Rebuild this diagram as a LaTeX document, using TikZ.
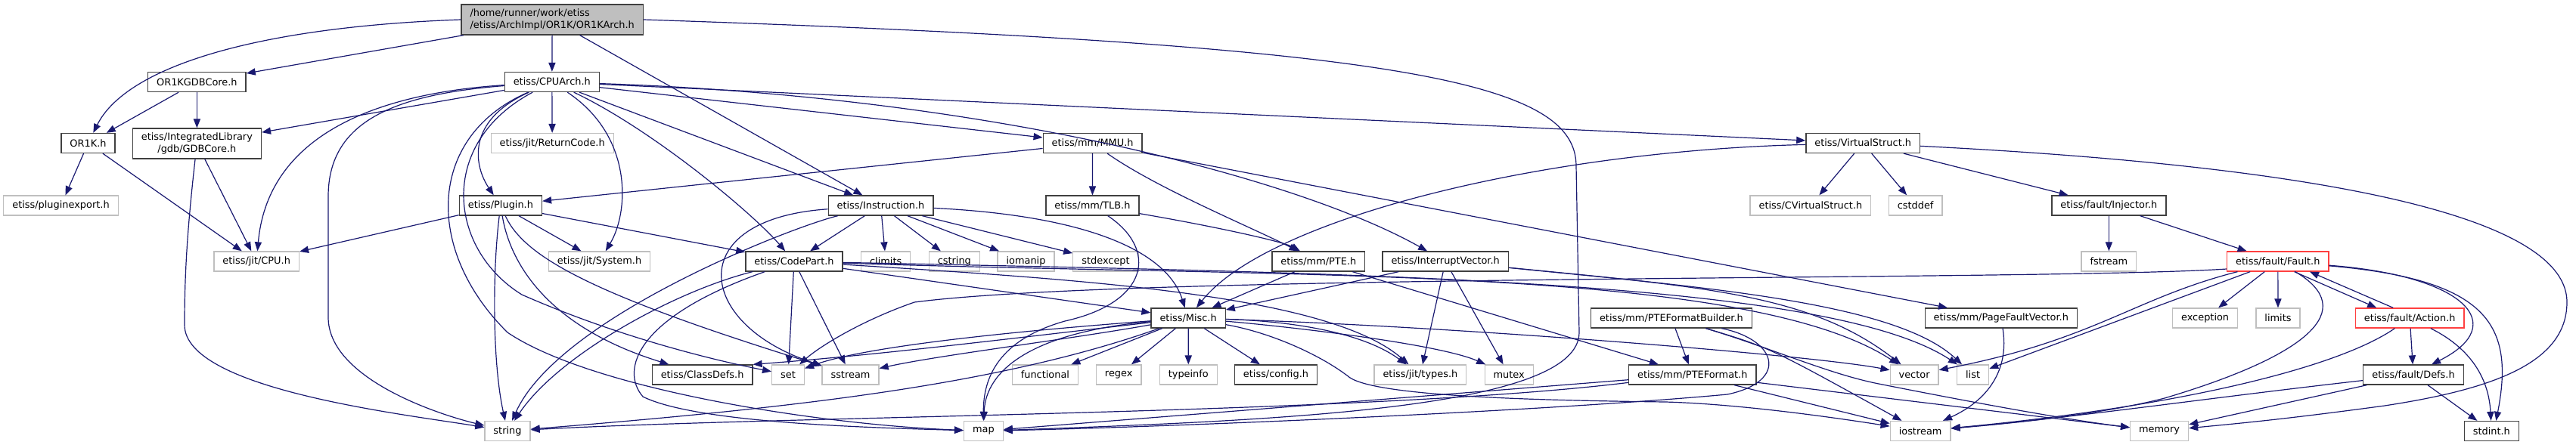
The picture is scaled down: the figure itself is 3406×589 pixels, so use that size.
\documentclass[tikz,border=0pt]{standalone}
\usepackage{fontspec}
\setmainfont{DejaVu Sans}
\usetikzlibrary{arrows.meta}
\definecolor{edgeblue}{HTML}{191970}
\definecolor{boxgray}{HTML}{BFBFBF}
\definecolor{boxdark}{HTML}{404040}
\definecolor{boxred}{HTML}{FF4040}
\begin{document}
\begin{tikzpicture}[x=0.5pt, y=-0.5pt,
  every node/.style={font=\fontsize{6.45}{7.7}\selectfont, inner xsep=5.75pt, inner ysep=0pt,
    minimum height=13pt, line width=0.65pt},
  hdr/.style={draw=boxdark},
  sys/.style={draw=boxgray},
  bad/.style={draw=boxred},
  rootbox/.style={draw=boxdark, fill=boxgray, align=left, minimum height=20pt},
  inc/.style={draw=edgeblue, line width=0.6pt, -{Triangle[length=6pt,width=4.6pt]}}]
  \useasboundingbox (0,0) rectangle (3406,589);

  % row 0 and 1
  \node[rootbox] (root) at (730.2,26) {/home/runner/work/etiss\\/etiss/ArchImpl/OR1K/OR1KArch.h};
  \node[hdr] (gdbcore_or) at (260.4,108.5) {OR1KGDBCore.h};
  \node[hdr] (cpuarch) at (729.8,108.5) {etiss/CPUArch.h};
  % row 2
  \node[hdr] (or1k) at (116.5,189.5) {OR1K.h};
  \node[hdr, align=center, minimum height=20pt] (gdbcore) at (260.4,190) {etiss/IntegratedLibrary\\/gdb/GDBCore.h};
  \node[sys] (retcode) at (730.2,189.5) {etiss/jit/ReturnCode.h};
  \node[hdr] (mmu) at (1444.6,189.5) {etiss/mm/MMU.h};
  \node[hdr] (vstruct) at (2463.2,189.5) {etiss/VirtualStruct.h};
  % row 3
  \node[sys] (plugexp) at (80.5,272) {etiss/pluginexport.h};
  \node[hdr] (plugin) at (661.9,272) {etiss/Plugin.h};
  \node[hdr] (instr) at (1164.5,272) {etiss/Instruction.h};
  \node[hdr] (tlb) at (1444.4,272) {etiss/mm/TLB.h};
  \node[sys] (cvstruct) at (2393.9,272) {etiss/CVirtualStruct.h};
  \node[sys] (cstddef) at (2532.6,272) {cstddef};
  \node[hdr] (injector) at (2788.4,272) {etiss/fault/Injector.h};
  % row 4
  \node[sys] (cpu) at (339.2,346) {etiss/jit/CPU.h};
  \node[sys] (system) at (792.6,346) {etiss/jit/System.h};
  \node[hdr] (codepart) at (1050,346) {etiss/CodePart.h};
  \node[sys] (climits) at (1171.2,346) {climits};
  \node[sys] (cstring) at (1261.8,346) {cstring};
  \node[sys] (iomanip) at (1356.5,346) {iomanip};
  \node[sys] (stdexcept) at (1462,346) {stdexcept};
  \node[hdr] (pte) at (1743.3,346) {etiss/mm/PTE.h};
  \node[hdr] (intvec) at (1911.2,346) {etiss/InterruptVector.h};
  \node[sys] (fstream) at (2788.4,346) {fstream};
  \node[bad] (fault) at (3011.8,346) {etiss/fault/Fault.h};
  % row 5
  \node[hdr] (misc) at (1571.1,421) {etiss/Misc.h};
  \node[hdr] (ptefb) at (2209.9,421) {etiss/mm/PTEFormatBuilder.h};
  \node[hdr] (pfv) at (2645.8,421) {etiss/mm/PageFaultVector.h};
  \node[sys] (exception) at (2915.6,421) {exception};
  \node[sys] (limits) at (3012,421) {limits};
  \node[bad] (action) at (3186.2,421) {etiss/fault/Action.h};
  % row 6
  \node[hdr] (classdefs) at (928.6,496) {etiss/ClassDefs.h};
  \node[sys] (set) at (1042,496) {set};
  \node[sys] (sstream) at (1124.5,496) {sstream};
  \node[sys] (functional) at (1381.9,496) {functional};
  \node[sys] (regex) at (1479.2,496) {regex};
  \node[sys] (typeinfo) at (1571.3,496) {typeinfo};
  \node[hdr] (config) at (1687,496) {etiss/config.h};
  \node[sys] (types) at (1877.9,496) {etiss/jit/types.h};
  \node[sys] (mutex) at (1995.2,496) {mutex};
  \node[hdr] (pteformat) at (2237.8,496) {etiss/mm/PTEFormat.h};
  \node[sys] (vector) at (2531.1,496) {vector};
  \node[sys] (list) at (2608.6,496) {list};
  \node[hdr] (defs) at (3191,496) {etiss/fault/Defs.h};
  % row 7
  \node[sys] (string) at (671,570.5) {string};
  \node[sys] (map) at (1300.4,570.5) {map};
  \node[sys] (iostream) at (2539.1,570.5) {iostream};
  \node[sys] (memory) at (2855.1,570.5) {memory};
  \node[hdr] (stdint) at (3294.3,570.5) {stdint.h};

  % OR1KArch.h
  \draw[inc] (root.west) .. controls (333,36) and (166,90) .. (or1k);
  \draw[inc] (root) -- (gdbcore_or);
  \draw[inc] (root) -- (cpuarch);
  \draw[inc] (root) -- (instr);
  \draw[inc] (root.east) .. controls (1868,60) and (2084,110) .. (2084,220) -- (2088,440)
    .. controls (2088,540) and (1702,556) .. (map);
  % OR1KGDBCore.h, OR1K.h, GDBCore.h
  \draw[inc] (gdbcore_or) -- (or1k);
  \draw[inc] (gdbcore_or) -- (gdbcore);
  \draw[inc] (or1k) -- (plugexp);
  \draw[inc] (or1k) -- (cpu);
  \draw[inc] (gdbcore) -- (cpu);
  \draw[inc] (gdbcore) .. controls (248,300) and (244,360) .. (244,430)
    .. controls (244,515) and (532,548) .. (string);
  % CPUArch.h
  \draw[inc] (cpuarch) -- (gdbcore);
  \draw[inc] (cpuarch) .. controls (477,125) and (353,190) .. (cpu);
  \draw[inc] (cpuarch) .. controls (522,125) and (434,160) .. (434,260) -- (434,420)
    .. controls (434,500) and (577,548) .. (string);
  \draw[inc] (cpuarch) -- (retcode);
  \draw[inc] (cpuarch) .. controls (615,160) and (627,220) .. (plugin);
  \draw[inc] (cpuarch) -- (instr);
  \draw[inc] (cpuarch) -- (mmu);
  \draw[inc] (cpuarch) -- (vstruct);
  \draw[inc] (cpuarch) .. controls (1320,128) and (1724,240) .. (intvec);
  \draw[inc] (cpuarch) .. controls (837,180) and (832,280) .. (system);
  \draw[inc] (cpuarch) .. controls (860,170) and (993,280) .. (codepart);
  \draw[inc] (cpuarch) .. controls (577,190) and (593,330) .. (690,390)
    .. controls (826,450) and (960,480) .. (set);
  \draw[inc] (cpuarch) .. controls (565,180) and (560,330) .. (671,440)
    .. controls (782,515) and (1082,562) .. (map);
  % MMU.h, TLB.h
  \draw[inc] (mmu) -- (plugin);
  \draw[inc] (mmu) -- (tlb);
  \draw[inc] (mmu) .. controls (1531,250) and (1653,300) .. (pte);
  \draw[inc] (mmu) -- (pfv);
  \draw[inc] (tlb) .. controls (1608,300) and (1697,320) .. (pte);
  \draw[inc] (tlb) .. controls (1531,330) and (1520,400) .. (1408,425)
    .. controls (1320,450) and (1300,500) .. (map);
  % VirtualStruct.h
  \draw[inc] (vstruct) -- (cvstruct);
  \draw[inc] (vstruct) -- (cstddef);
  \draw[inc] (vstruct) -- (injector);
  \draw[inc] (vstruct) .. controls (2035,200) and (1675,290) .. (misc);
  \draw[inc] (vstruct) .. controls (2909,212) and (3394,260) .. (3394,400)
    .. controls (3394,480) and (3297,515) .. (3153,537)
    .. controls (3020,555) and (2964,560) .. (memory);
  % Plugin.h
  \draw[inc] (plugin) -- (cpu);
  \draw[inc] (plugin) -- (system);
  \draw[inc] (plugin) -- (codepart);
  \draw[inc] (plugin) .. controls (651,360) and (651,480) .. (string);
  \draw[inc] (plugin) .. controls (673,340) and (715,430) .. (classdefs);
  \draw[inc] (plugin) .. controls (693,340) and (782,390) .. (sstream);
  % Instruction.h
  \draw[inc] (instr) -- (climits);
  \draw[inc] (instr) -- (cstring);
  \draw[inc] (instr) -- (iomanip);
  \draw[inc] (instr) -- (stdexcept);
  \draw[inc] (instr) .. controls (1431,285) and (1542,330) .. (misc);
  \draw[inc] (instr) -- (codepart);
  \draw[inc] (instr) .. controls (1048,300) and (738,420) .. (string);
  \draw[inc] (instr) .. controls (900,290) and (920,430) .. (sstream);
  % CodePart.h
  \draw[inc] (codepart) -- (misc);
  \draw[inc] (codepart) -- (set);
  \draw[inc] (codepart) -- (sstream);
  \draw[inc] (codepart) .. controls (893,385) and (738,470) .. (string);
  \draw[inc] (codepart) .. controls (840,420) and (820,490) .. (850,525)
    .. controls (920,560) and (1150,566) .. (map);
  \draw[inc] (codepart) .. controls (1431,370) and (1758,390) .. (types);
  \draw[inc] (codepart) .. controls (1702,368) and (2307,350) .. (vector);
  \draw[inc] (codepart) .. controls (1813,362) and (2418,370) .. (list);
  % Misc.h
  \draw[inc] (misc) .. controls (1320,450) and (1159,470) .. (classdefs.north east);
  \draw[inc] (misc) .. controls (1320,440) and (1137,460) .. (set);
  \draw[inc] (misc) .. controls (1408,450) and (1242,470) .. (sstream);
  \draw[inc] (misc) .. controls (1320,510) and (1048,540) .. (string);
  \draw[inc] (misc) .. controls (1364,440) and (1303,490) .. (map);
  \draw[inc] (misc) -- (functional);
  \draw[inc] (misc) -- (regex);
  \draw[inc] (misc) -- (typeinfo);
  \draw[inc] (misc) -- (config);
  \draw[inc] (misc) .. controls (1708,425) and (1802,440) .. (types);
  \draw[inc] (misc) .. controls (1702,432) and (1902,455) .. (mutex);
  \draw[inc] (misc) .. controls (1924,432) and (2395,470) .. (vector);
  \draw[inc] (misc) .. controls (1680,440) and (1747,470) .. (1785,500)
    .. controls (1824,525) and (2035,530) .. (2202,532)
    .. controls (2307,535) and (2440,555) .. (iostream);
  % PTE.h, InterruptVector.h
  \draw[inc] (pte) -- (misc);
  \draw[inc] (pte) -- (pteformat);
  \draw[inc] (intvec) -- (misc);
  \draw[inc] (intvec) -- (types);
  \draw[inc] (intvec) -- (mutex);
  \draw[inc] (intvec) .. controls (2257,380) and (2395,390) .. (vector);
  \draw[inc] (intvec) .. controls (2251,380) and (2506,400) .. (list);
  % PTEFormatBuilder.h, PTEFormat.h, PageFaultVector.h
  \draw[inc] (ptefb) -- (pteformat);
  \draw[inc] (ptefb) .. controls (2351,450) and (2365,505) .. (2284,522)
    .. controls (2035,545) and (1542,565) .. (map);
  \draw[inc] (ptefb) .. controls (2340,460) .. (iostream);
  \draw[inc] (ptefb) .. controls (2340,460) and (2418,495) .. (2484,508)
    .. controls (2595,530) and (2728,555) .. (memory);
  \draw[inc] (pteformat) -- (map);
  \draw[inc] (pteformat) .. controls (1813,548) and (1048,550) .. (string);
  \draw[inc] (pteformat) -- (iostream);
  \draw[inc] (pteformat) -- (memory);
  \draw[inc] (pfv) .. controls (2657,490) and (2628,530) .. (iostream);
  % Injector.h
  \draw[inc] (injector) -- (fstream);
  \draw[inc] (injector) -- (fault);
  % Fault.h
  \draw[inc] (fault) -- (exception);
  \draw[inc] (fault) -- (limits);
  \draw[inc] ([xshift=-23pt]fault.south east) -- ([xshift=-22pt]action.north);
  \draw[inc] (fault) .. controls (3260,365) and (3320,430) .. ([xshift=12pt]defs.north);
  \draw[inc] (fault) .. controls (3290,370) and (3325,430) .. ([xshift=3pt]stdint.north);
  \draw[inc] (fault) -- (list);
  \draw[inc] (fault) .. controls (2820,395) and (2770,450) .. (vector);
  \draw[inc] (fault) .. controls (3120,410) and (3053,470) .. (2862,527)
    .. controls (2773,550) and (2640,562) .. (iostream);
  \draw[inc] ([yshift=-5pt]fault.west) .. controls (2700,372) and (1500,362) .. (1209,400)
    .. controls (1137,425) and (1082,460) .. (set);
  % Action.h, Defs.h
  \draw[inc] ([xshift=-11pt]action.north) -- ([xshift=-12.8pt]fault.south east);
  \draw[inc] (action) -- (defs);
  \draw[inc] (action) .. controls (3255,455) and (3290,490) .. (stdint);
  \draw[inc] (action) .. controls (3086,490) and (2864,540) .. (iostream);
  \draw[inc] (defs) .. controls (2909,528) and (2750,552) .. (iostream);
  \draw[inc] (defs) -- (memory);
  \draw[inc] (defs) -- (stdint);
\end{tikzpicture}
\end{document}
